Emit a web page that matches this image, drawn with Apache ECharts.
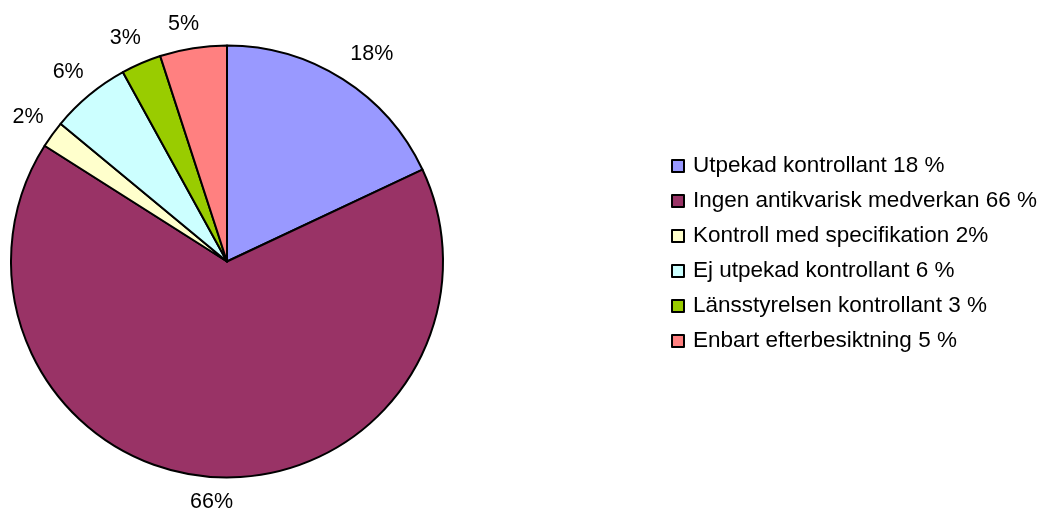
<!DOCTYPE html>
<html>
<head>
<meta charset="utf-8">
<script src="https://cdn.jsdelivr.net/npm/echarts@6/dist/echarts.min.js"></script>
<style>
  html, body { margin: 0; padding: 0; background: #ffffff; }
  #chart { width: 1046px; height: 508px; }
</style>
</head>
<body>
<div id="chart"></div>
<script>
// Slice names as listed in the legend, and their shares in percent
const categories = [
  'Utpekad kontrollant 18 %',
  'Ingen antikvarisk medverkan 66 %',
  'Kontroll med specifikation 2%',
  'Ej utpekad kontrollant 6 %',
  'Länsstyrelsen kontrollant 3 %',
  'Enbart efterbesiktning 5 %'
];
const shares = [18, 66, 2, 6, 3, 5];
const sliceColors = ['#9999FF', '#993366', '#FFFFCC', '#CCFFFF', '#99CC00', '#FF8080'];

// Small nudges for percentage labels that sit off the common label ring
const labelNudge = [[13, 0], [0, -5], [0, 0], [-2, 0], [-4, 2], [-5, 6]];

const FONT = '"Liberation Sans", Arial, sans-serif';
const CENTER = [227, 261.5];
const R = 216;

const pieData = categories.map((name, i) => ({
  name: name,
  value: shares[i],
  itemStyle: { color: sliceColors[i] }
}));

// Transparent ring outside the pie that only carries the percentage labels
const labelData = categories.map((name, i) => ({
  name: name,
  value: shares[i],
  label: { offset: labelNudge[i] }
}));

const chart = echarts.init(document.getElementById('chart'), null, { renderer: 'canvas' });

chart.setOption({
  animation: false,
  backgroundColor: '#ffffff',
  legend: {
    orient: 'vertical',
    left: 671,
    top: 154.5,
    padding: 0,
    icon: 'rect',
    itemWidth: 12,
    itemHeight: 12,
    itemGap: 12,
    data: categories,
    itemStyle: { borderColor: '#000000', borderWidth: 2 },
    textStyle: {
      fontFamily: FONT,
      fontSize: 22.5,
      lineHeight: 22,
      color: '#000000',
      padding: [0, 0, 0, 4]
    },
    selectedMode: false
  },
  series: [
    {
      type: 'pie',
      center: CENTER,
      radius: R,
      startAngle: 90,
      clockwise: true,
      silent: true,
      label: { show: false },
      labelLine: { show: false },
      itemStyle: { borderColor: '#000000', borderWidth: 2 },
      emphasis: { disabled: true },
      data: pieData
    },
    {
      type: 'pie',
      center: CENTER,
      radius: [R + 6, R + 48],
      startAngle: 90,
      clockwise: true,
      silent: true,
      legendHoverLink: false,
      itemStyle: { color: 'rgba(0,0,0,0)', borderWidth: 0 },
      label: {
        show: true,
        position: 'inside',
        formatter: (p) => p.value + '%',
        fontFamily: FONT,
        fontSize: 21.5,
        color: '#000000'
      },
      labelLine: { show: false },
      emphasis: { disabled: true },
      data: labelData
    }
  ]
});
</script>
</body>
</html>
